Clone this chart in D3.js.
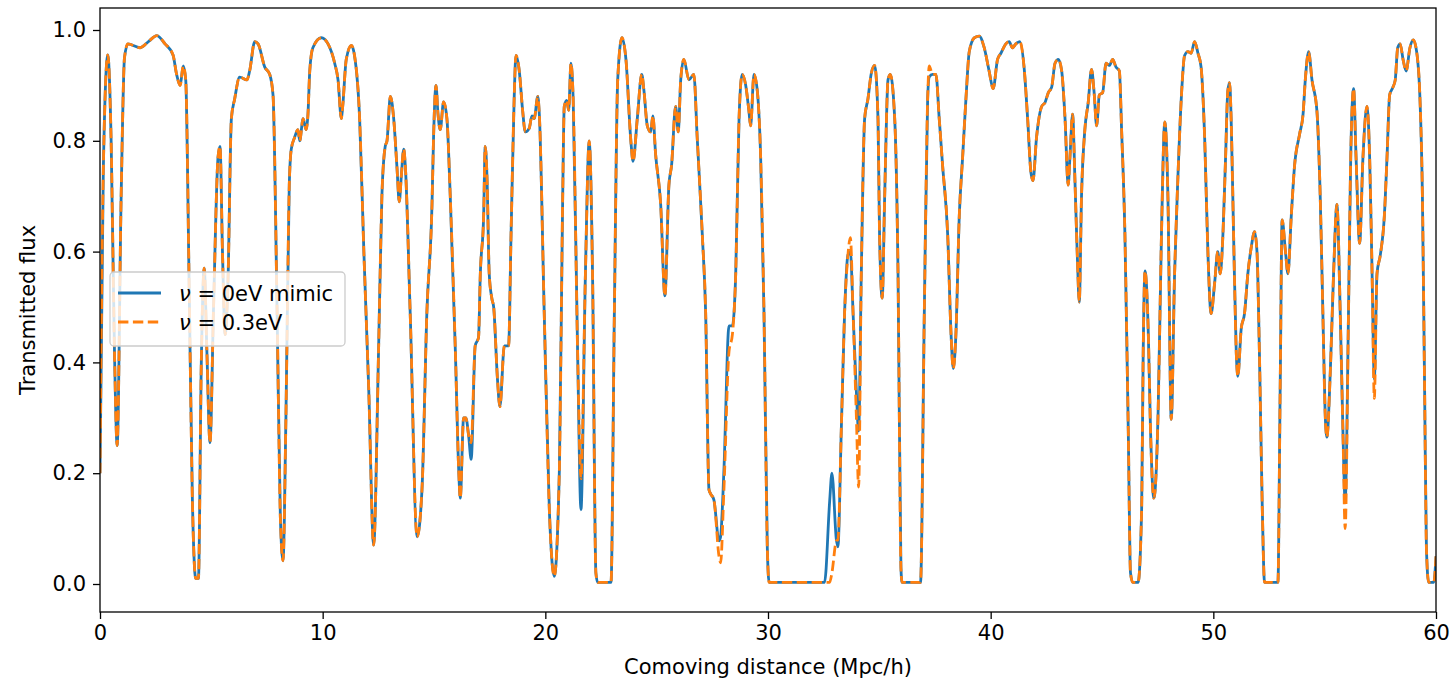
<!DOCTYPE html>
<html>
<head>
<meta charset="utf-8">
<script src="https://cdn.jsdelivr.net/npm/d3@7"></script>
<style>
  html, body { margin: 0; padding: 0; background: #fff; }
  svg { display: block; }
  text { font-family: "DejaVu Sans", sans-serif; }
</style>
</head>
<body>
<svg id="chart" width="1456" height="683"></svg>
<script>
// Comoving distance (Mpc/h)
const distance = [
  0.0, 0.15, 0.35, 0.5, 0.65, 0.77, 0.95, 1.1, 1.25, 1.8,
  2.2, 2.55, 2.92, 3.28, 3.44, 3.6, 3.74, 3.85, 4.0, 4.15,
  4.3, 4.42, 4.55, 4.68, 4.8, 4.94, 5.1, 5.3, 5.39, 5.5,
  5.62, 5.75, 5.9, 6.05, 6.27, 6.6, 6.72, 6.95, 7.1, 7.4,
  7.62, 7.77, 7.95, 8.1, 8.22, 8.35, 8.5, 8.59, 8.74, 8.89,
  8.97, 9.12, 9.26, 9.34, 9.42, 9.56, 9.94, 10.24, 10.54, 10.69,
  10.84, 10.9, 11.06, 11.29, 11.43, 11.66, 11.85, 12.07, 12.29, 12.51,
  12.66, 12.81, 12.89, 13.04, 13.19, 13.34, 13.44, 13.53, 13.64, 13.71,
  13.93, 14.24, 14.46, 14.68, 14.91, 14.98, 15.09, 15.18, 15.28, 15.43,
  15.58, 15.73, 15.96, 16.11, 16.18, 16.33, 16.43, 16.55, 16.67, 16.85,
  17.0, 17.08, 17.23, 17.3, 17.38, 17.48, 17.6, 17.68, 17.85, 17.96,
  18.16, 18.35, 18.46, 18.6, 18.68, 18.83, 18.98, 19.1, 19.28, 19.4,
  19.5, 19.66, 19.73, 19.95, 20.18, 20.4, 20.63, 20.78, 20.85, 20.96,
  21.05, 21.15, 21.25, 21.45, 21.6, 21.8, 21.97, 22.12, 22.27, 22.35,
  22.95, 23.1, 23.25, 23.44, 23.62, 23.84, 23.94, 24.13, 24.33, 24.43,
  24.58, 24.73, 24.83, 24.95, 25.18, 25.37, 25.55, 25.67, 25.85, 25.97,
  26.08, 26.22, 26.45, 26.67, 26.82, 27.05, 27.2, 27.35, 27.42, 27.57,
  27.8, 27.87, 28.02, 28.25, 28.4, 28.55, 28.7, 28.84, 29.0, 29.14,
  29.22, 29.37, 29.52, 29.67, 29.82, 29.97, 30.05, 32.54, 32.77, 32.87,
  33.07, 33.14, 33.29, 33.44, 33.59, 33.7, 33.82, 33.97, 34.07, 34.19,
  34.34, 34.49, 34.64, 34.79, 34.94, 35.01, 35.13, 35.24, 35.39, 35.49,
  35.69, 35.84, 35.97, 36.02, 36.85, 37.02, 37.17, 37.24, 37.39, 37.54,
  37.69, 37.84, 38.07, 38.22, 38.32, 38.44, 38.59, 38.74, 38.89, 39.04,
  39.27, 39.49, 39.71, 39.93, 40.11, 40.31, 40.46, 40.68, 40.83, 40.98,
  41.13, 41.31, 41.5, 41.66, 41.81, 41.9, 42.06, 42.29, 42.44, 42.59,
  42.74, 42.89, 43.04, 43.19, 43.34, 43.48, 43.56, 43.68, 43.78, 43.89,
  43.98, 44.08, 44.23, 44.38, 44.53, 44.64, 44.76, 44.88, 45.03, 45.18,
  45.33, 45.48, 45.63, 45.78, 45.88, 46.03, 46.18, 46.28, 46.38, 46.62,
  46.78, 46.85, 46.93, 47.08, 47.18, 47.33, 47.52, 47.67, 47.82, 47.96,
  48.11, 48.26, 48.41, 48.56, 48.71, 48.86, 49.0, 49.16, 49.31, 49.45,
  49.61, 49.76, 49.9, 50.06, 50.2, 50.31, 50.43, 50.55, 50.65, 50.73,
  50.8, 50.91, 51.03, 51.1, 51.25, 51.4, 51.55, 51.7, 51.85, 51.96,
  52.07, 52.2, 52.3, 52.9, 53.0, 53.09, 53.24, 53.35, 53.5, 53.65,
  53.88, 54.03, 54.13, 54.28, 54.43, 54.65, 54.8, 54.92, 55.02, 55.1,
  55.25, 55.4, 55.55, 55.7, 55.82, 55.92, 56.07, 56.17, 56.3, 56.41,
  56.57, 56.72, 56.9, 57.02, 57.13, 57.23, 57.35, 57.5, 57.68, 57.8,
  57.92, 58.07, 58.17, 58.28, 58.39, 58.52, 58.66, 58.83, 58.98, 59.13,
  59.28, 59.39, 59.49, 59.57, 59.67, 59.9, 60.0
];

// Transmitted flux, nu = 0 eV mimic
const fluxNu0 = [
  0.2, 0.75, 0.955, 0.8, 0.42, 0.25, 0.7, 0.95, 0.975, 0.968,
  0.98, 0.99, 0.975, 0.955, 0.92, 0.9, 0.935, 0.91, 0.55, 0.15,
  0.01, 0.01, 0.4, 0.57, 0.42, 0.255, 0.5, 0.77, 0.79, 0.6,
  0.45, 0.55, 0.84, 0.876, 0.915, 0.91, 0.926, 0.979, 0.975, 0.933,
  0.92, 0.883, 0.5, 0.12, 0.042, 0.3, 0.72, 0.785, 0.806, 0.82,
  0.8, 0.84, 0.82, 0.848, 0.926, 0.968, 0.986, 0.975, 0.94, 0.91,
  0.84, 0.862, 0.947, 0.972, 0.954, 0.84, 0.6, 0.35, 0.07, 0.42,
  0.7, 0.79, 0.8, 0.88, 0.84, 0.75, 0.69, 0.735, 0.785, 0.756,
  0.49, 0.085, 0.17, 0.49, 0.685, 0.806, 0.9, 0.848, 0.82, 0.87,
  0.84, 0.7, 0.42, 0.205, 0.155, 0.3, 0.3, 0.27, 0.225, 0.43,
  0.445, 0.56, 0.665, 0.79, 0.735, 0.56, 0.515, 0.5, 0.37, 0.32,
  0.43, 0.43, 0.63, 0.876, 0.954, 0.926, 0.855, 0.816, 0.823, 0.845,
  0.84, 0.88, 0.848, 0.49, 0.134, 0.014, 0.205, 0.7, 0.862, 0.873,
  0.855, 0.94, 0.876, 0.417, 0.134, 0.56, 0.8, 0.56, 0.02, 0.003,
  0.003, 0.49, 0.91, 0.986, 0.947, 0.8, 0.763, 0.84, 0.92, 0.89,
  0.827, 0.816, 0.845, 0.777, 0.685, 0.52, 0.72, 0.756, 0.862, 0.816,
  0.91, 0.947, 0.91, 0.92, 0.806, 0.63, 0.49, 0.17, 0.163, 0.152,
  0.078, 0.085, 0.205, 0.466, 0.466, 0.56, 0.84, 0.92, 0.9, 0.855,
  0.827, 0.92, 0.89, 0.77, 0.49, 0.064, 0.003, 0.003, 0.15, 0.2,
  0.08, 0.067, 0.276, 0.49, 0.594, 0.6, 0.49, 0.346, 0.276, 0.56,
  0.84, 0.876, 0.922, 0.936, 0.84, 0.63, 0.516, 0.7, 0.91, 0.92,
  0.84, 0.56, 0.03, 0.003, 0.003, 0.49, 0.876, 0.915, 0.92, 0.92,
  0.84, 0.756, 0.63, 0.452, 0.389, 0.452, 0.664, 0.77, 0.876, 0.961,
  0.986, 0.989, 0.968, 0.926, 0.894, 0.947, 0.958, 0.975, 0.979, 0.968,
  0.975, 0.979, 0.933, 0.84, 0.742, 0.728, 0.806, 0.862, 0.869, 0.887,
  0.897, 0.94, 0.947, 0.926, 0.84, 0.72, 0.77, 0.848, 0.735, 0.594,
  0.509, 0.7, 0.82, 0.869, 0.929, 0.89, 0.827, 0.883, 0.887, 0.94,
  0.936, 0.947, 0.933, 0.926, 0.82, 0.63, 0.276, 0.02, 0.003, 0.003,
  0.134, 0.417, 0.565, 0.452, 0.276, 0.155, 0.31, 0.63, 0.834, 0.7,
  0.297, 0.56, 0.735, 0.876, 0.954, 0.961, 0.958, 0.979, 0.958, 0.933,
  0.806, 0.594, 0.488, 0.544, 0.6, 0.56, 0.63, 0.77, 0.89, 0.905,
  0.84, 0.63, 0.417, 0.375, 0.46, 0.488, 0.56, 0.607, 0.636, 0.6,
  0.417, 0.134, 0.003, 0.003, 0.346, 0.657, 0.6, 0.56, 0.664, 0.756,
  0.813, 0.848, 0.91, 0.961, 0.91, 0.855, 0.7, 0.488, 0.31, 0.265,
  0.38, 0.56, 0.685, 0.488, 0.276, 0.15, 0.488, 0.77, 0.894, 0.77,
  0.615, 0.77, 0.862, 0.77, 0.56, 0.37, 0.56, 0.594, 0.664, 0.77,
  0.883, 0.897, 0.91, 0.968, 0.975, 0.947, 0.926, 0.968, 0.982, 0.961,
  0.876, 0.7, 0.346, 0.064, 0.003, 0.003, 0.05
];

// Transmitted flux, nu = 0.3 eV
const fluxNu03 = [
  0.2, 0.75, 0.955, 0.8, 0.42, 0.25, 0.7, 0.95, 0.975, 0.968,
  0.98, 0.99, 0.975, 0.955, 0.92, 0.9, 0.935, 0.91, 0.55, 0.15,
  0.01, 0.01, 0.4, 0.57, 0.42, 0.255, 0.5, 0.77, 0.79, 0.6,
  0.45, 0.55, 0.84, 0.876, 0.915, 0.91, 0.926, 0.979, 0.975, 0.933,
  0.92, 0.883, 0.5, 0.12, 0.042, 0.3, 0.72, 0.785, 0.806, 0.82,
  0.8, 0.84, 0.82, 0.848, 0.926, 0.968, 0.986, 0.975, 0.94, 0.91,
  0.84, 0.862, 0.947, 0.972, 0.954, 0.84, 0.6, 0.35, 0.07, 0.42,
  0.7, 0.79, 0.8, 0.88, 0.84, 0.75, 0.69, 0.735, 0.785, 0.756,
  0.49, 0.085, 0.17, 0.49, 0.685, 0.806, 0.9, 0.848, 0.82, 0.87,
  0.84, 0.7, 0.42, 0.205, 0.155, 0.3, 0.3, 0.27, 0.255, 0.43,
  0.445, 0.56, 0.665, 0.79, 0.735, 0.56, 0.515, 0.5, 0.37, 0.32,
  0.43, 0.43, 0.63, 0.876, 0.954, 0.926, 0.855, 0.816, 0.823, 0.845,
  0.84, 0.88, 0.848, 0.49, 0.134, 0.014, 0.205, 0.7, 0.862, 0.873,
  0.855, 0.94, 0.876, 0.417, 0.19, 0.56, 0.8, 0.56, 0.02, 0.003,
  0.003, 0.49, 0.91, 0.986, 0.947, 0.8, 0.763, 0.84, 0.92, 0.89,
  0.827, 0.816, 0.845, 0.777, 0.685, 0.52, 0.72, 0.756, 0.862, 0.816,
  0.91, 0.947, 0.91, 0.92, 0.806, 0.63, 0.49, 0.17, 0.163, 0.152,
  0.05, 0.038, 0.17, 0.42, 0.45, 0.56, 0.84, 0.92, 0.9, 0.855,
  0.827, 0.92, 0.89, 0.77, 0.49, 0.064, 0.003, 0.003, 0.003, 0.02,
  0.078, 0.08, 0.276, 0.49, 0.594, 0.625, 0.49, 0.3, 0.175, 0.56,
  0.84, 0.876, 0.922, 0.936, 0.84, 0.63, 0.516, 0.7, 0.91, 0.92,
  0.84, 0.56, 0.03, 0.003, 0.003, 0.49, 0.876, 0.935, 0.92, 0.92,
  0.84, 0.756, 0.63, 0.452, 0.389, 0.452, 0.664, 0.77, 0.876, 0.961,
  0.986, 0.989, 0.968, 0.926, 0.894, 0.947, 0.958, 0.975, 0.979, 0.968,
  0.975, 0.979, 0.933, 0.84, 0.742, 0.728, 0.806, 0.862, 0.869, 0.887,
  0.897, 0.94, 0.947, 0.926, 0.84, 0.72, 0.77, 0.848, 0.735, 0.594,
  0.509, 0.7, 0.82, 0.869, 0.929, 0.89, 0.827, 0.883, 0.887, 0.94,
  0.936, 0.947, 0.933, 0.926, 0.82, 0.63, 0.276, 0.02, 0.003, 0.003,
  0.134, 0.417, 0.565, 0.452, 0.276, 0.155, 0.31, 0.63, 0.834, 0.7,
  0.297, 0.56, 0.735, 0.876, 0.954, 0.961, 0.958, 0.979, 0.958, 0.933,
  0.806, 0.594, 0.488, 0.544, 0.6, 0.56, 0.63, 0.77, 0.89, 0.905,
  0.84, 0.63, 0.417, 0.375, 0.46, 0.488, 0.56, 0.607, 0.636, 0.6,
  0.417, 0.134, 0.003, 0.003, 0.346, 0.657, 0.6, 0.56, 0.664, 0.756,
  0.813, 0.848, 0.91, 0.961, 0.91, 0.855, 0.7, 0.488, 0.31, 0.265,
  0.38, 0.56, 0.685, 0.488, 0.276, 0.1, 0.488, 0.77, 0.894, 0.77,
  0.615, 0.77, 0.862, 0.77, 0.56, 0.335, 0.56, 0.594, 0.664, 0.77,
  0.883, 0.897, 0.91, 0.968, 0.975, 0.947, 0.926, 0.968, 0.982, 0.961,
  0.876, 0.7, 0.346, 0.064, 0.003, 0.003, 0.05
];

const xTicks = [0, 10, 20, 30, 40, 50, 60];
const yTicks = [0.0, 0.2, 0.4, 0.6, 0.8, 1.0];
const seriesNames = ["0eV mimic", "0.3eV"];
const seriesColors = ["#1f77b4", "#ff7f0e"];

const svg = d3.select("#chart");
const plot = { left: 100, right: 1436, top: 8, bottom: 612 };
const fs = "21px";

const x = d3.scaleLinear().domain([0, 60]).range([plot.left, plot.right]);
// 0.0 at y=584, 1.0 at y=30
const y = d3.scaleLinear().domain([0, 1]).range([584, 30]);

svg.append("defs").append("clipPath").attr("id", "clip")
  .append("rect")
  .attr("x", plot.left).attr("y", plot.top)
  .attr("width", plot.right - plot.left).attr("height", plot.bottom - plot.top);

const series = [fluxNu0, fluxNu03].map((vals, i) => ({
  name: seriesNames[i],
  color: seriesColors[i],
  points: distance.map((d, j) => [d, vals[j]])
}));

const line = d3.line()
  .x(d => x(d[0]))
  .y(d => y(d[1]))
  .curve(d3.curveMonotoneX);

const lw = 2.8;
const g = svg.append("g").attr("clip-path", "url(#clip)");
g.append("path")
  .attr("d", line(series[0].points))
  .attr("fill", "none")
  .attr("stroke", series[0].color)
  .attr("stroke-width", lw)
  .attr("stroke-linejoin", "round");
g.append("path")
  .attr("d", line(series[1].points))
  .attr("fill", "none")
  .attr("stroke", series[1].color)
  .attr("stroke-width", lw)
  .attr("stroke-dasharray", "10.4,4.5");

// Axes
const xAxis = d3.axisBottom(x).tickValues(xTicks).tickFormat(d3.format("d"))
  .tickSize(7).tickPadding(6);
const yAxis = d3.axisLeft(y).tickValues(yTicks).tickFormat(d3.format(".1f"))
  .tickSize(7).tickPadding(7);

const gx = svg.append("g").attr("transform", `translate(0,${plot.bottom})`).call(xAxis);
const gy = svg.append("g").attr("transform", `translate(${plot.left},0)`).call(yAxis);
[gx, gy].forEach(a => {
  a.select(".domain").remove();
  a.selectAll(".tick line").attr("stroke", "#000").attr("stroke-width", 1.3);
  a.selectAll(".tick text").attr("fill", "#000")
    .style("font-family", "'DejaVu Sans', sans-serif").style("font-size", fs);
});

// Frame
svg.append("rect")
  .attr("x", plot.left).attr("y", plot.top)
  .attr("width", plot.right - plot.left).attr("height", plot.bottom - plot.top)
  .attr("fill", "none").attr("stroke", "#000").attr("stroke-width", 1.3);

// Axis labels
svg.append("text")
  .attr("x", (plot.left + plot.right) / 2).attr("y", 674)
  .attr("text-anchor", "middle")
  .style("font-size", fs)
  .text("Comoving distance (Mpc/h)");

svg.append("text")
  .attr("transform", `translate(35,${(plot.top + plot.bottom) / 2}) rotate(-90)`)
  .attr("text-anchor", "middle")
  .style("font-size", fs)
  .text("Transmitted flux");

// Legend
const lg = svg.append("g");
lg.append("rect")
  .attr("x", 110).attr("y", 272).attr("width", 235).attr("height", 74)
  .attr("rx", 4).attr("ry", 4)
  .attr("fill", "#fff").attr("fill-opacity", 0.8)
  .attr("stroke", "#cccccc").attr("stroke-width", 1.3);

series.forEach((s, i) => {
  const cy = 293 + i * 29;
  const ln = lg.append("line")
    .attr("x1", 118).attr("x2", 161).attr("y1", cy).attr("y2", cy)
    .attr("stroke", s.color).attr("stroke-width", lw);
  if (i === 1) ln.attr("stroke-dasharray", "10.4,4.5");
  const t = lg.append("text")
    .attr("x", 179).attr("y", cy + 7.5)
    .style("font-size", fs);
  t.append("tspan").style("font-style", "italic").text("ν");
  t.append("tspan").text(" = " + s.name);
});
</script>
</body>
</html>
